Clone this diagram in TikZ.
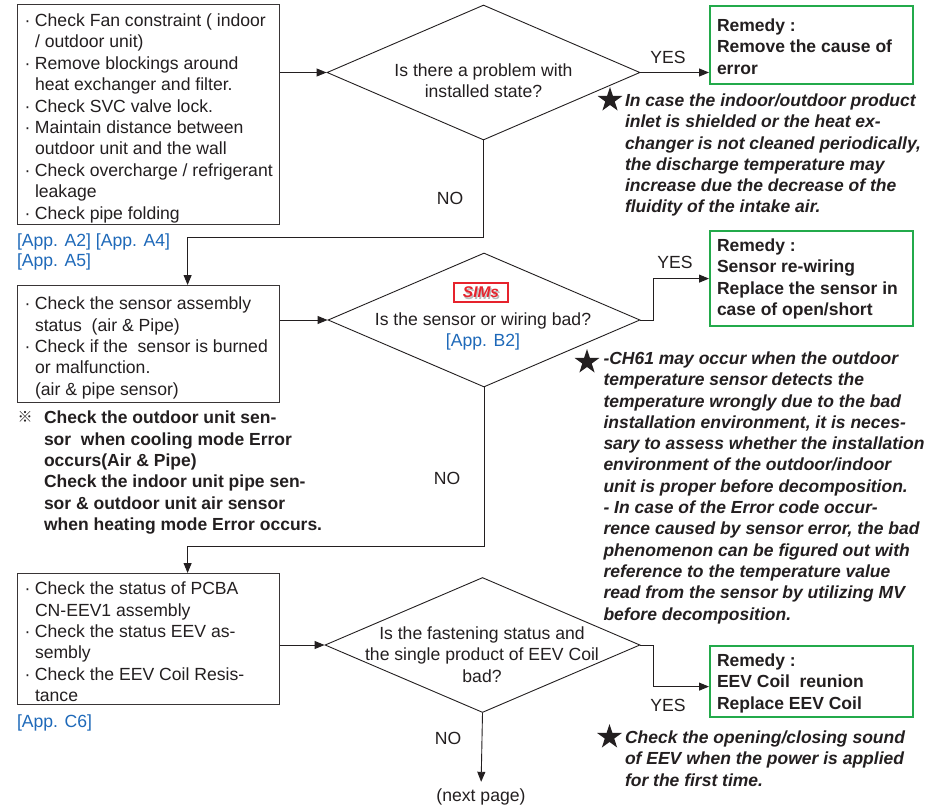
\documentclass[tikz,border=0pt]{standalone}
\usepackage{fontspec}
\setmainfont{Liberation Sans}
\newfontfamily\cjkfont{Noto Sans CJK JP}
\usetikzlibrary{shapes.geometric,arrows.meta,calc}
\definecolor{ink}{RGB}{35,31,32}
\definecolor{appblue}{RGB}{30,105,185}
\definecolor{remgreen}{RGB}{35,170,75}
\definecolor{simsred}{RGB}{230,35,45}
\newcommand{\bl}{\makebox[10.5pt][l]{·}}
\newcommand{\ind}{\hspace*{10.5pt}}
\begin{document}
\begin{tikzpicture}[x=1pt,y=-1pt,
  txt/.style={inner sep=0pt, outer sep=0pt, text=ink, font=\fontsize{17.6}{21.4}\selectfont, align=left, anchor=north west},
  ctxt/.style={txt, align=center, anchor=north},
  lbl/.style={txt, anchor=center},
  chk/.style={draw=ink!90, line width=1.2pt, rectangle, inner sep=0pt, anchor=north west},
  dia/.style={draw=ink, line width=0.9pt, diamond, inner sep=0pt},
  rem/.style={draw=remgreen, line width=2.2pt, rectangle, inner sep=0pt, anchor=north west},
  conn/.style={draw=ink, line width=0.9pt},
  arr/.style={conn, -{Triangle[length=10pt,width=8pt]}},
  bnote/.style={txt, font=\bfseries\itshape\fontsize{17.5}{21.3}\selectfont},
  rtxt/.style={txt, font=\bfseries\fontsize{17.5}{21.4}\selectfont},
  app/.style={txt, text=appblue},
  starmark/.style={star, star points=5, star point ratio=2.618, fill=ink, draw=none, inner sep=0pt, minimum size=26pt},
]
\fill[white] (0,0) rectangle (944,806);
\useasboundingbox (0,0) rectangle (944,806);

% ---- row 1 ----
\node[chk, minimum width=262pt, minimum height=220pt] (b1) at (17,4) {};
\node[txt] (b1t) at (24.5,13.75) {\bl Check Fan constraint ( indoor\\
\ind / outdoor unit)\\
\bl Remove blockings around\\
\ind heat exchanger and filter.\\
\bl Check SVC valve lock.\\
\bl Maintain distance between\\
\ind outdoor unit and the wall\\
\bl Check overcharge / refrigerant\\
\ind leakage\\
\bl Check pipe folding};
\node[app, font=\fontsize{17.6}{20}\selectfont] (a1) at (17,233.75) {[App. A2] [App. A4]\\{}[App. A5]};

\node[dia, minimum width=313pt, minimum height=135pt] (d1) at (483.5,72.5) {};
\node[ctxt] (d1t) at (483.5,63.75) {Is there a problem with\\installed state?};

\node[rem, minimum width=203pt, minimum height=78pt] (g1) at (709,5) {};
\node[rtxt] (g1t) at (717,18.75) {Remedy :\\Remove the cause of\\error};
\node[lbl] (y1) at (668,57) {YES};
\node[lbl] (no1) at (450,198) {NO};

\node[starmark] (s1) at (610,100) {};
\node[bnote] (n1) at (625,93.75) {In case the indoor/outdoor product\\
inlet is shielded or the heat ex-\\
changer is not cleaned periodically,\\
the discharge temperature may\\
increase due the decrease of the\\
fluidity of the intake air.};

% ---- row 2 ----
\node[chk, minimum width=262pt, minimum height=117pt] (b2) at (17,285) {};
\node[txt] (b2t) at (24.5,297) {\bl Check the sensor assembly\\
\ind status\ \ (air \& Pipe)\\
\bl Check if the\ \ sensor is burned\\
\ind or malfunction.\\
\ind (air \& pipe sensor)};

\node[txt, font=\cjkfont\fontsize{15}{15}\selectfont, anchor=center] (refm) at (25,417) {※};
\node[rtxt] (sn) at (44,411) {Check the outdoor unit sen-\\
sor\ \ when cooling mode Error\\
occurs(Air \& Pipe)\\
Check the indoor unit pipe sen-\\
sor \& outdoor unit air sensor\\
when heating mode Error occurs.};

\node[dia, minimum width=312pt, minimum height=134pt] (d2) at (484,320) {};
\node[draw=simsred, line width=1.3pt, minimum width=54pt, minimum height=19pt, inner sep=0pt] (sims) at (481,292.5) {};
\node[lbl, text=gray!55, font=\bfseries\itshape\fontsize{15.5}{15.5}\selectfont] (simsh) at (482.3,293.8) {SIMs};
\node[lbl, text=simsred, font=\bfseries\itshape\fontsize{15.5}{15.5}\selectfont] (simst) at (481,292.5) {SIMs};
\node[ctxt] (d2q) at (483,312.75) {Is the sensor or wiring bad?};
\node[app, anchor=north] (ab2) at (483,333.75) {[App. B2]};

\node[rem, minimum width=203pt, minimum height=95pt] (g2) at (709,230) {};
\node[rtxt] (g2t) at (717,238.75) {Remedy :\\Sensor re-wiring\\Replace the sensor in\\case of open/short};
\node[lbl] (y2) at (675,262) {YES};
\node[lbl] (no2) at (447,478) {NO};

\node[starmark] (s2) at (587,362) {};
\node[bnote] (n2) at (603.5,351.75) {-CH61 may occur when the outdoor\\
temperature sensor detects the\\
temperature wrongly due to the bad\\
installation environment, it is neces-\\
sary to assess whether the installation\\
environment of the outdoor/indoor\\
unit is proper before decomposition.\\
- In case of the Error code occur-\\
rence caused by sensor error, the bad\\
phenomenon can be figured out with\\
reference to the temperature value\\
read from the sensor by utilizing MV\\
before decomposition.};

% ---- row 3 ----
\node[chk, minimum width=262pt, minimum height=131pt] (b3) at (17,573) {};
\node[txt] (b3t) at (24.5,582) {\bl Check the status of PCBA\\
\ind CN-EEV1 assembly\\
\bl Check the status EEV as-\\
\ind sembly\\
\bl Check the EEV Coil Resis-\\
\ind tance};
\node[app] (ac6) at (17,715) {[App. C6]};

\node[dia, minimum width=315pt, minimum height=135pt] (d3) at (482.5,645) {};
\node[ctxt] (d3t) at (482,626.75) {Is the fastening status and\\the single product of EEV Coil\\bad?};

\node[rem, minimum width=203pt, minimum height=71pt] (g3) at (709,645) {};
\node[rtxt] (g3t) at (717,653.75) {Remedy :\\EEV Coil\ \ reunion\\Replace EEV Coil};
\node[lbl] (y3) at (668,705) {YES};
\node[lbl] (no3) at (448,738) {NO};

\node[starmark] (s3) at (609.5,737) {};
\node[bnote] (n3) at (625,730.75) {Check the opening/closing sound\\
of EEV when the power is applied\\
for the first time.};

\node[lbl] (np) at (481,797) {(next page)};

% ---- connectors ----
\draw[arr] (b1.east |- d1.west) -- (d1.west);
\draw[arr] (d1.east) -- (d1.east -| g1.west);
\draw[arr] (d1.south) -- ++(0,97) -| ([xshift=39pt]b2.north);
\draw[arr] (b2.east |- d2.west) -- (d2.west);
\draw[arr] (d2.east) -- ++(13,0) |- (g2.west);
\draw[arr] (d2.south) -- ++(0,159) -| ([xshift=39pt]b3.north);
\draw[arr] (b3.east |- d3.west) -- (d3.west);
\draw[arr] (d3.east) -- ++(13,0) |- ([yshift=-5pt]g3.west);
\draw[arr, shorten >=7pt] (d3.south) -- (np.north);
\end{tikzpicture}
\end{document}
